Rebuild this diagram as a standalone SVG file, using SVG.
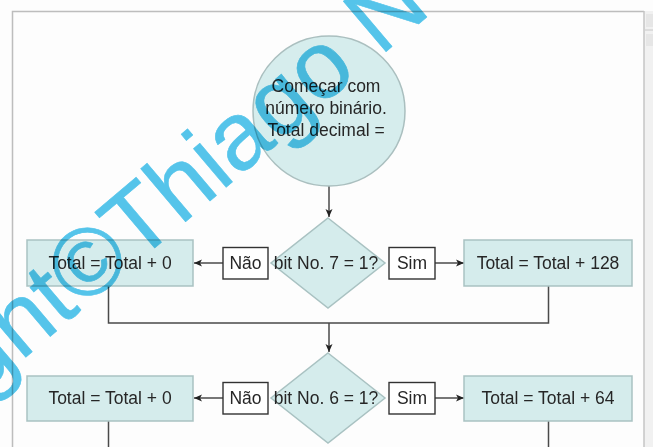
<svg xmlns="http://www.w3.org/2000/svg" width="653" height="447" viewBox="0 0 653 447">
<defs>
<style>
.box{fill:#d5ecec;stroke:#a9c2c2;stroke-width:1.5}
.lbl{fill:#ffffff;stroke:#333333;stroke-width:1.4}
.t{font-family:"Liberation Sans",Arial,sans-serif;font-size:17.5px;fill:#262626;text-anchor:middle}
.ln{fill:none;stroke:#4a4a4a;stroke-width:1.5}
.wm{font-family:"Liberation Sans",Arial,sans-serif;font-size:96px;fill:#55c6ec;stroke:#55c6ec;stroke-width:0.6;stroke-linejoin:round;mix-blend-mode:multiply}
</style>
<marker id="ah" markerWidth="9" markerHeight="8" refX="8" refY="4" orient="auto" markerUnits="userSpaceOnUse">
<path d="M0,0.5 L8,4 L0,7.5 L2,4 z" fill="#222"/>
</marker>
</defs>
<rect x="0" y="0" width="653" height="447" fill="#fdfdfd"/>
<g id="frame">
<path d="M12.5,447 V11.5 H644" fill="none" stroke="#bdbdbd" stroke-width="1.5"/>
<rect x="644" y="11" width="9" height="436" fill="#f1f1f1"/>
<line x1="644" y1="11" x2="644" y2="447" stroke="#c4c4c4" stroke-width="1.5"/>
<rect x="646" y="14" width="7" height="13" fill="#e6e6e6"/>
<line x1="645" y1="30" x2="653" y2="30" stroke="#c8c8c8" stroke-width="1"/>
<rect x="646" y="34" width="7" height="12" fill="#e6e6e6"/>
</g>
<g id="connectors">
<line class="ln" x1="329" y1="186" x2="329" y2="217" marker-end="url(#ah)"/>
<line class="ln" x1="223" y1="263" x2="194" y2="263" marker-end="url(#ah)"/>
<line class="ln" x1="435" y1="263" x2="464" y2="263" marker-end="url(#ah)"/>
<path class="ln" d="M108.5,286 V323 H548.5 V286"/>
<line class="ln" x1="329" y1="323" x2="329" y2="352" marker-end="url(#ah)"/>
<line class="ln" x1="223" y1="398" x2="194" y2="398" marker-end="url(#ah)"/>
<line class="ln" x1="435" y1="398" x2="464" y2="398" marker-end="url(#ah)"/>
<line class="ln" x1="108.5" y1="421" x2="108.5" y2="447"/>
<line class="ln" x1="548.5" y1="421" x2="548.5" y2="447"/>
</g>
<g id="start">
<ellipse cx="329" cy="111" rx="76" ry="75" fill="#d6eded" stroke="#aabfbf" stroke-width="1.5"/>
<text class="t" x="326" y="92">Começar com</text>
<text class="t" x="326" y="114">número binário.</text>
<text class="t" x="326" y="136">Total decimal =</text>
</g>
<g id="dec7">
<polygon class="box" points="328,218 385,263 328,308 271,263"/>
<text class="t" x="326" y="269">bit No. 7 = 1?</text>
</g>
<g id="nao7">
<rect class="lbl" x="223" y="247.5" width="45" height="31.5"/>
<text class="t" x="245.5" y="269">Não</text>
</g>
<g id="sim7">
<rect class="lbl" x="389" y="247.5" width="46" height="31.5"/>
<text class="t" x="412" y="269">Sim</text>
</g>
<g id="left7">
<rect class="box" x="27" y="240" width="166" height="46"/>
<text class="t" x="110" y="269">Total = Total + 0</text>
</g>
<g id="right7">
<rect class="box" x="464" y="240" width="168" height="46"/>
<text class="t" x="548" y="269">Total = Total + 128</text>
</g>
<g id="dec6">
<polygon class="box" points="328,353 385,398 328,443 271,398"/>
<text class="t" x="326" y="404">bit No. 6 = 1?</text>
</g>
<g id="nao6">
<rect class="lbl" x="223" y="382.5" width="45" height="31.5"/>
<text class="t" x="245.5" y="404">Não</text>
</g>
<g id="sim6">
<rect class="lbl" x="389" y="382.5" width="46" height="31.5"/>
<text class="t" x="412" y="404">Sim</text>
</g>
<g id="left6">
<rect class="box" x="27" y="376" width="166" height="45"/>
<text class="t" x="110" y="404">Total = Total + 0</text>
</g>
<g id="right6">
<rect class="box" x="464" y="376" width="168" height="45"/>
<text class="t" x="548" y="404">Total = Total + 64</text>
</g>
<g id="watermark">
<text class="wm" transform="translate(-20,396) rotate(-40.3)">ght©Thiago N</text>
</g>
</svg>
